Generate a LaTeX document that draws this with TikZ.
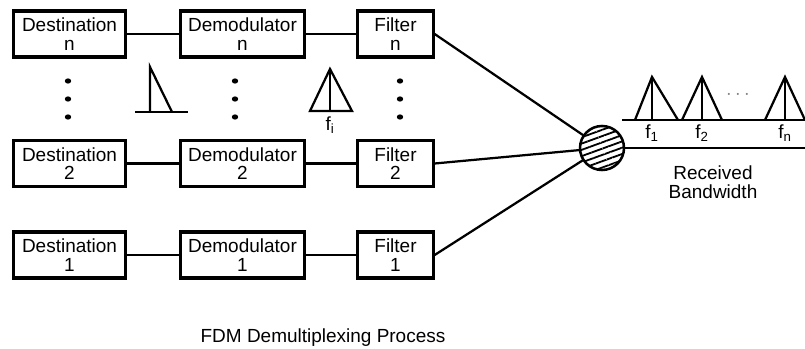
\documentclass[tikz,border=0pt]{standalone}
\usepackage{fontspec}
\setmainfont{Liberation Sans}
\usetikzlibrary{patterns.meta}

\tikzset{
	blk/.style = {draw, line width=2.2pt, minimum height=1.15cm, align=center, inner sep=1pt, font=\fontsize{13.5}{13}\selectfont},
	destbox/.style = {blk, minimum width=2.78cm},
	demodbox/.style = {blk, minimum width=3.12cm},
	filtbox/.style = {blk, minimum width=1.88cm},
	link/.style = {line width=1.6pt},
	vdot/.style = {ellipse, fill=black, inner sep=0pt, minimum width=0.16cm, minimum height=0.13cm},
	lbl/.style = {font=\fontsize{13.5}{13.5}\selectfont, align=center}
}
\usetikzlibrary{shapes.geometric}

\begin{document}
\begin{tikzpicture}[x = 0.025cm, y = -0.025cm]
		\useasboundingbox (0,0) rectangle (805,349);
		% receiver chains
		\node [destbox] (dest-n) at (69.5,34) {Destination\\n};
		\node [demodbox] (demod-n) at (242.5,34) {Demodulator\\n};
		\node [filtbox] (filt-n) at (395.5,34) {Filter\\n};
		\node [destbox] (dest-2) at (69.5,163.5) {Destination\\2};
		\node [demodbox] (demod-2) at (242.5,163.5) {Demodulator\\2};
		\node [filtbox] (filt-2) at (395.5,163.5) {Filter\\2};
		\node [destbox] (dest-1) at (69.5,255) {Destination\\1};
		\node [demodbox] (demod-1) at (242.5,255) {Demodulator\\1};
		\node [filtbox] (filt-1) at (395.5,255) {Filter\\1};
		\draw [link] (dest-n) -- (demod-n);
		\draw [link] (demod-n) -- (filt-n);
		\draw [link] (dest-2) -- (demod-2);
		\draw [link] (demod-2) -- (filt-2);
		\draw [link] (dest-1) -- (demod-1);
		\draw [link] (demod-1) -- (filt-1);
		% splitter
		\node [circle, draw, line width=1.8pt, minimum size=1.1cm, pattern={Lines[angle=20, distance=4.2pt, line width=1.3pt]}] (hub) at (602,148) {};
		\coordinate (rx) at (805,148);
		\draw [link] (filt-n.east) -- (hub);
		\draw [link] (filt-2.east) -- (hub);
		\draw [link] (filt-1.east) -- (hub);
		\draw [link] (hub) -- (rx);
		% vertical dots
		\node [vdot] at (68,81) {};
		\node [vdot] at (68,99) {};
		\node [vdot] at (68,117) {};
		\node [vdot] at (235,81) {};
		\node [vdot] at (235,99) {};
		\node [vdot] at (235,117) {};
		\node [vdot] at (400,81) {};
		\node [vdot] at (400,99) {};
		\node [vdot] at (400,117) {};
		% baseband and channel spectra
		\draw [link] (135,112) -- (188,112);
		\draw [link] (150,112) -- (150,67) -- (172,112);
		\draw [link] (310,111) -- (330,69) -- (352,111) -- cycle;
		\draw [link] (330,69) -- (330,111);
		\node [lbl] (fi) at (330,125) {f\textsubscript{i}};
		% received bandwidth
		\draw [line width=2pt] (622,120) -- (805,120);
		\draw [link] (635,120) -- (652,77) -- (678,120);
		\draw [link] (652,77) -- (652,120);
		\draw [link] (682,120) -- (702,77) -- (722,120);
		\draw [link] (702,77) -- (702,120);
		\draw [link] (765,120) -- (785,77) -- (805,120);
		\draw [link] (785,77) -- (785,120);
		\node [lbl, gray] at (738,95) {$\cdots$};
		\node [lbl] (f1) at (652,133) {f\textsubscript{1}};
		\node [lbl] (f2) at (702,133) {f\textsubscript{2}};
		\node [lbl] (fn) at (785,133) {f\textsubscript{n}};
		\node [lbl] (bw) at (713,182) {Received\\Bandwidth};
		\node [lbl] (caption) at (323,338) {FDM Demultiplexing Process};
	\end{tikzpicture}
\end{document}
